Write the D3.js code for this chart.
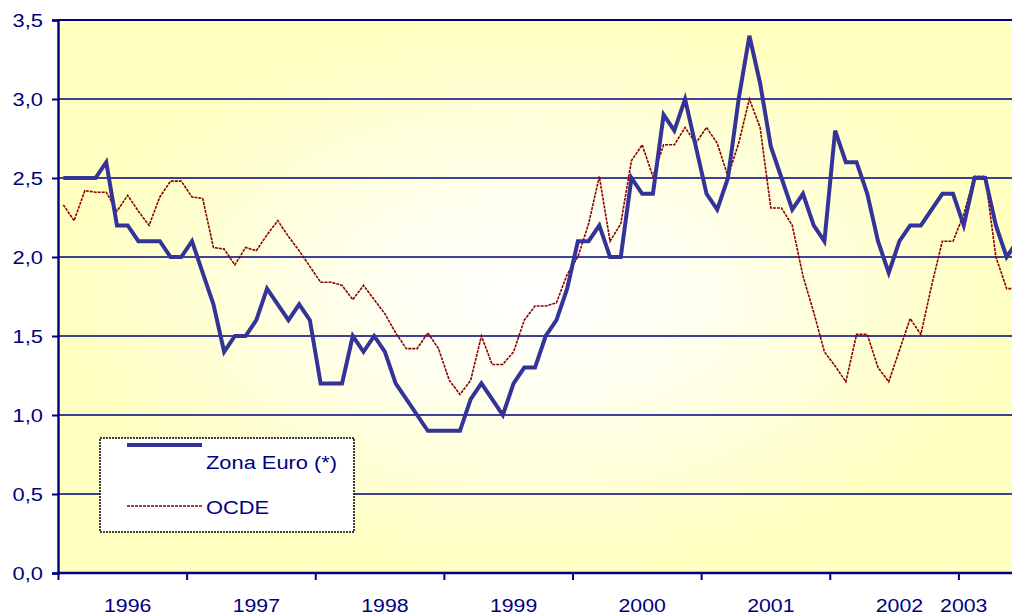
<!DOCTYPE html>
<html>
<head>
<meta charset="utf-8">
<script src="https://cdn.jsdelivr.net/npm/d3@7"></script>
<style>
  body { margin: 0; background: #fff; }
  svg { display: block; font-family: "Liberation Sans", Arial, sans-serif; }
  .lbl { fill: #000080; font-size: 19px; }
</style>
</head>
<body>
<svg width="1012" height="616"></svg>
<script>
// monthly values, Jan 1996 onwards
const zonaEuro = [2.5, 2.5, 2.5, 2.5, 2.6, 2.2, 2.2, 2.1, 2.1, 2.1, 2.0, 2.0,
  2.1, 1.9, 1.7, 1.4, 1.5, 1.5, 1.6, 1.8, 1.7, 1.6, 1.7, 1.6,
  1.2, 1.2, 1.2, 1.5, 1.4, 1.5, 1.4, 1.2, 1.1, 1.0, 0.9, 0.9,
  0.9, 0.9, 1.1, 1.2, 1.1, 1.0, 1.2, 1.3, 1.3, 1.5, 1.6, 1.8,
  2.1, 2.1, 2.2, 2.0, 2.0, 2.5, 2.4, 2.4, 2.9, 2.8, 3.0, 2.7,
  2.4, 2.3, 2.5, 3.0, 3.4, 3.1, 2.7, 2.5, 2.3, 2.4, 2.2, 2.1,
  2.8, 2.6, 2.6, 2.4, 2.1, 1.9, 2.1, 2.2, 2.2, 2.3, 2.4, 2.4,
  2.2, 2.5, 2.5, 2.2, 2.0, 2.1];

const ocde = [2.33, 2.23, 2.42, 2.41, 2.41, 2.29, 2.39, 2.29, 2.2, 2.38, 2.48, 2.48,
  2.38, 2.37, 2.06, 2.05, 1.95, 2.06, 2.04, 2.14, 2.23, 2.13, 2.04, 1.94,
  1.84, 1.84, 1.82, 1.73, 1.82, 1.73, 1.64, 1.52, 1.42, 1.42, 1.52, 1.42,
  1.22, 1.13, 1.22, 1.5, 1.32, 1.32, 1.4, 1.6, 1.69, 1.69, 1.71, 1.89,
  2.0, 2.21, 2.51, 2.1, 2.21, 2.61, 2.71, 2.51, 2.71, 2.71, 2.82, 2.72,
  2.82, 2.72, 2.51, 2.72, 3.0, 2.82, 2.31, 2.31, 2.2, 1.88, 1.65, 1.4,
  1.31, 1.21, 1.51, 1.51, 1.3, 1.21, 1.41, 1.61, 1.51, 1.82, 2.1, 2.1,
  2.27, 2.51, 2.51, 2.0, 1.8, 1.8];

const yearLabels = ["1996", "1997", "1998", "1999", "2000", "2001", "2002", "2003"];
const yearLabelAt = [6, 18, 30, 42, 54, 66, 78, 84];   // category index of each label
const yearTicks = [0, 12, 24, 36, 48, 60, 72, 84];     // category boundaries with a tick
const yTicks = [0, 0.5, 1, 1.5, 2, 2.5, 3, 3.5];

const seriesNames = ["Zona Euro (*)", "OCDE"];

const svg = d3.select("svg");
const m = { left: 58, top: 20, right: 1012, bottom: 573 };

// 89 monthly categories fit the visible width
const x = d3.scaleLinear().domain([0, 89]).range([m.left, m.right]);
const y = d3.scaleLinear().domain([0, 3.5]).range([m.bottom, m.top]);

// background
const defs = svg.append("defs");
const grad = defs.append("radialGradient").attr("id", "bg")
  .attr("cx", "50%").attr("cy", "50%").attr("r", "50%");
grad.append("stop").attr("offset", "0%").attr("stop-color", "#ffffff");
grad.append("stop").attr("offset", "35%").attr("stop-color", "#fffff0");
grad.append("stop").attr("offset", "100%").attr("stop-color", "#ffffc0");

defs.append("clipPath").attr("id", "plot")
  .append("rect").attr("x", m.left).attr("y", m.top - 5)
  .attr("width", m.right - m.left + 20).attr("height", m.bottom - m.top + 10);

svg.append("rect")
  .attr("x", m.left).attr("y", m.top)
  .attr("width", m.right - m.left + 2).attr("height", m.bottom - m.top)
  .attr("fill", "url(#bg)");

// gridlines
svg.append("g")
  .selectAll("line")
  .data(yTicks.filter(d => d > 0))
  .join("line")
  .attr("x1", m.left).attr("x2", m.right + 2)
  .attr("y1", d => y(d)).attr("y2", d => y(d))
  .attr("stroke", "#000080")
  .attr("stroke-width", d => d === 3.5 ? 2.2 : 1.6);

// y axis
const yAxis = svg.append("g")
  .attr("transform", `translate(${m.left},0)`)
  .call(d3.axisLeft(y).tickValues(yTicks).tickSize(6).tickPadding(9)
    .tickFormat(d => d3.format(".1f")(d).replace(".", ",")));
yAxis.select(".domain").attr("stroke", "#000080").attr("stroke-width", 2.4);
yAxis.selectAll(".tick line").attr("stroke", "#000080").attr("stroke-width", 2);
yAxis.selectAll(".tick text").attr("class", "lbl")
  .each(function () {
    const t = d3.select(this);
    t.attr("transform", `translate(${t.attr("x")},0) scale(1.15,1)`).attr("x", 0);
  });
yAxis.attr("font-size", null).attr("font-family", null);

// x axis: tick marks at year boundaries
const xAxis = svg.append("g")
  .attr("transform", `translate(0,${m.bottom})`)
  .call(d3.axisBottom(x).tickValues(yearTicks).tickSize(7).tickFormat(""));
xAxis.select(".domain").attr("stroke", "#000080").attr("stroke-width", 2.4)
  .attr("d", `M${m.left},0H${m.right + 2}`);
xAxis.selectAll(".tick line").attr("stroke", "#000080").attr("stroke-width", 2);

// x labels at category centres
svg.append("g")
  .selectAll("text")
  .data(yearLabels)
  .join("text")
  .attr("class", "lbl")
  .attr("text-anchor", "middle")
  .attr("transform", (d, i) => `translate(${x(yearLabelAt[i] + 0.5)},${m.bottom + 39}) scale(1.12,1)`)
  .text(d => d);

// series
const line = d3.line()
  .x((d, i) => x(i + 0.5))
  .y(d => y(d));

const plot = svg.append("g").attr("clip-path", "url(#plot)");

plot.append("path")
  .datum(ocde)
  .attr("d", line)
  .attr("fill", "none")
  .attr("stroke", "#8b0000")
  .attr("stroke-width", 1.6)
  .attr("stroke-dasharray", "3,1");

plot.append("path")
  .datum(zonaEuro)
  .attr("d", line)
  .attr("fill", "none")
  .attr("stroke", "#333399")
  .attr("stroke-width", 4)
  .attr("stroke-linejoin", "miter");

// legend
const legend = svg.append("g");
legend.append("rect")
  .attr("x", 100).attr("y", 438).attr("width", 254).attr("height", 94)
  .attr("fill", "#ffffff").attr("stroke", "#000")
  .attr("stroke-width", 1.5).attr("stroke-dasharray", "2,1");

legend.append("line")
  .attr("x1", 127).attr("x2", 202).attr("y1", 445).attr("y2", 445)
  .attr("stroke", "#333399").attr("stroke-width", 4);
legend.append("line")
  .attr("x1", 127).attr("x2", 202).attr("y1", 506).attr("y2", 506)
  .attr("stroke", "#8b0000").attr("stroke-width", 1.6)
  .attr("stroke-dasharray", "3,1");

legend.selectAll("text.name")
  .data(seriesNames)
  .join("text")
  .attr("class", "lbl name")
  .attr("font-size", "20px")
  .attr("transform", (d, i) => `translate(206,${i === 0 ? 469 : 514}) scale(1.15,1)`)
  .text(d => d);
</script>
</body>
</html>
